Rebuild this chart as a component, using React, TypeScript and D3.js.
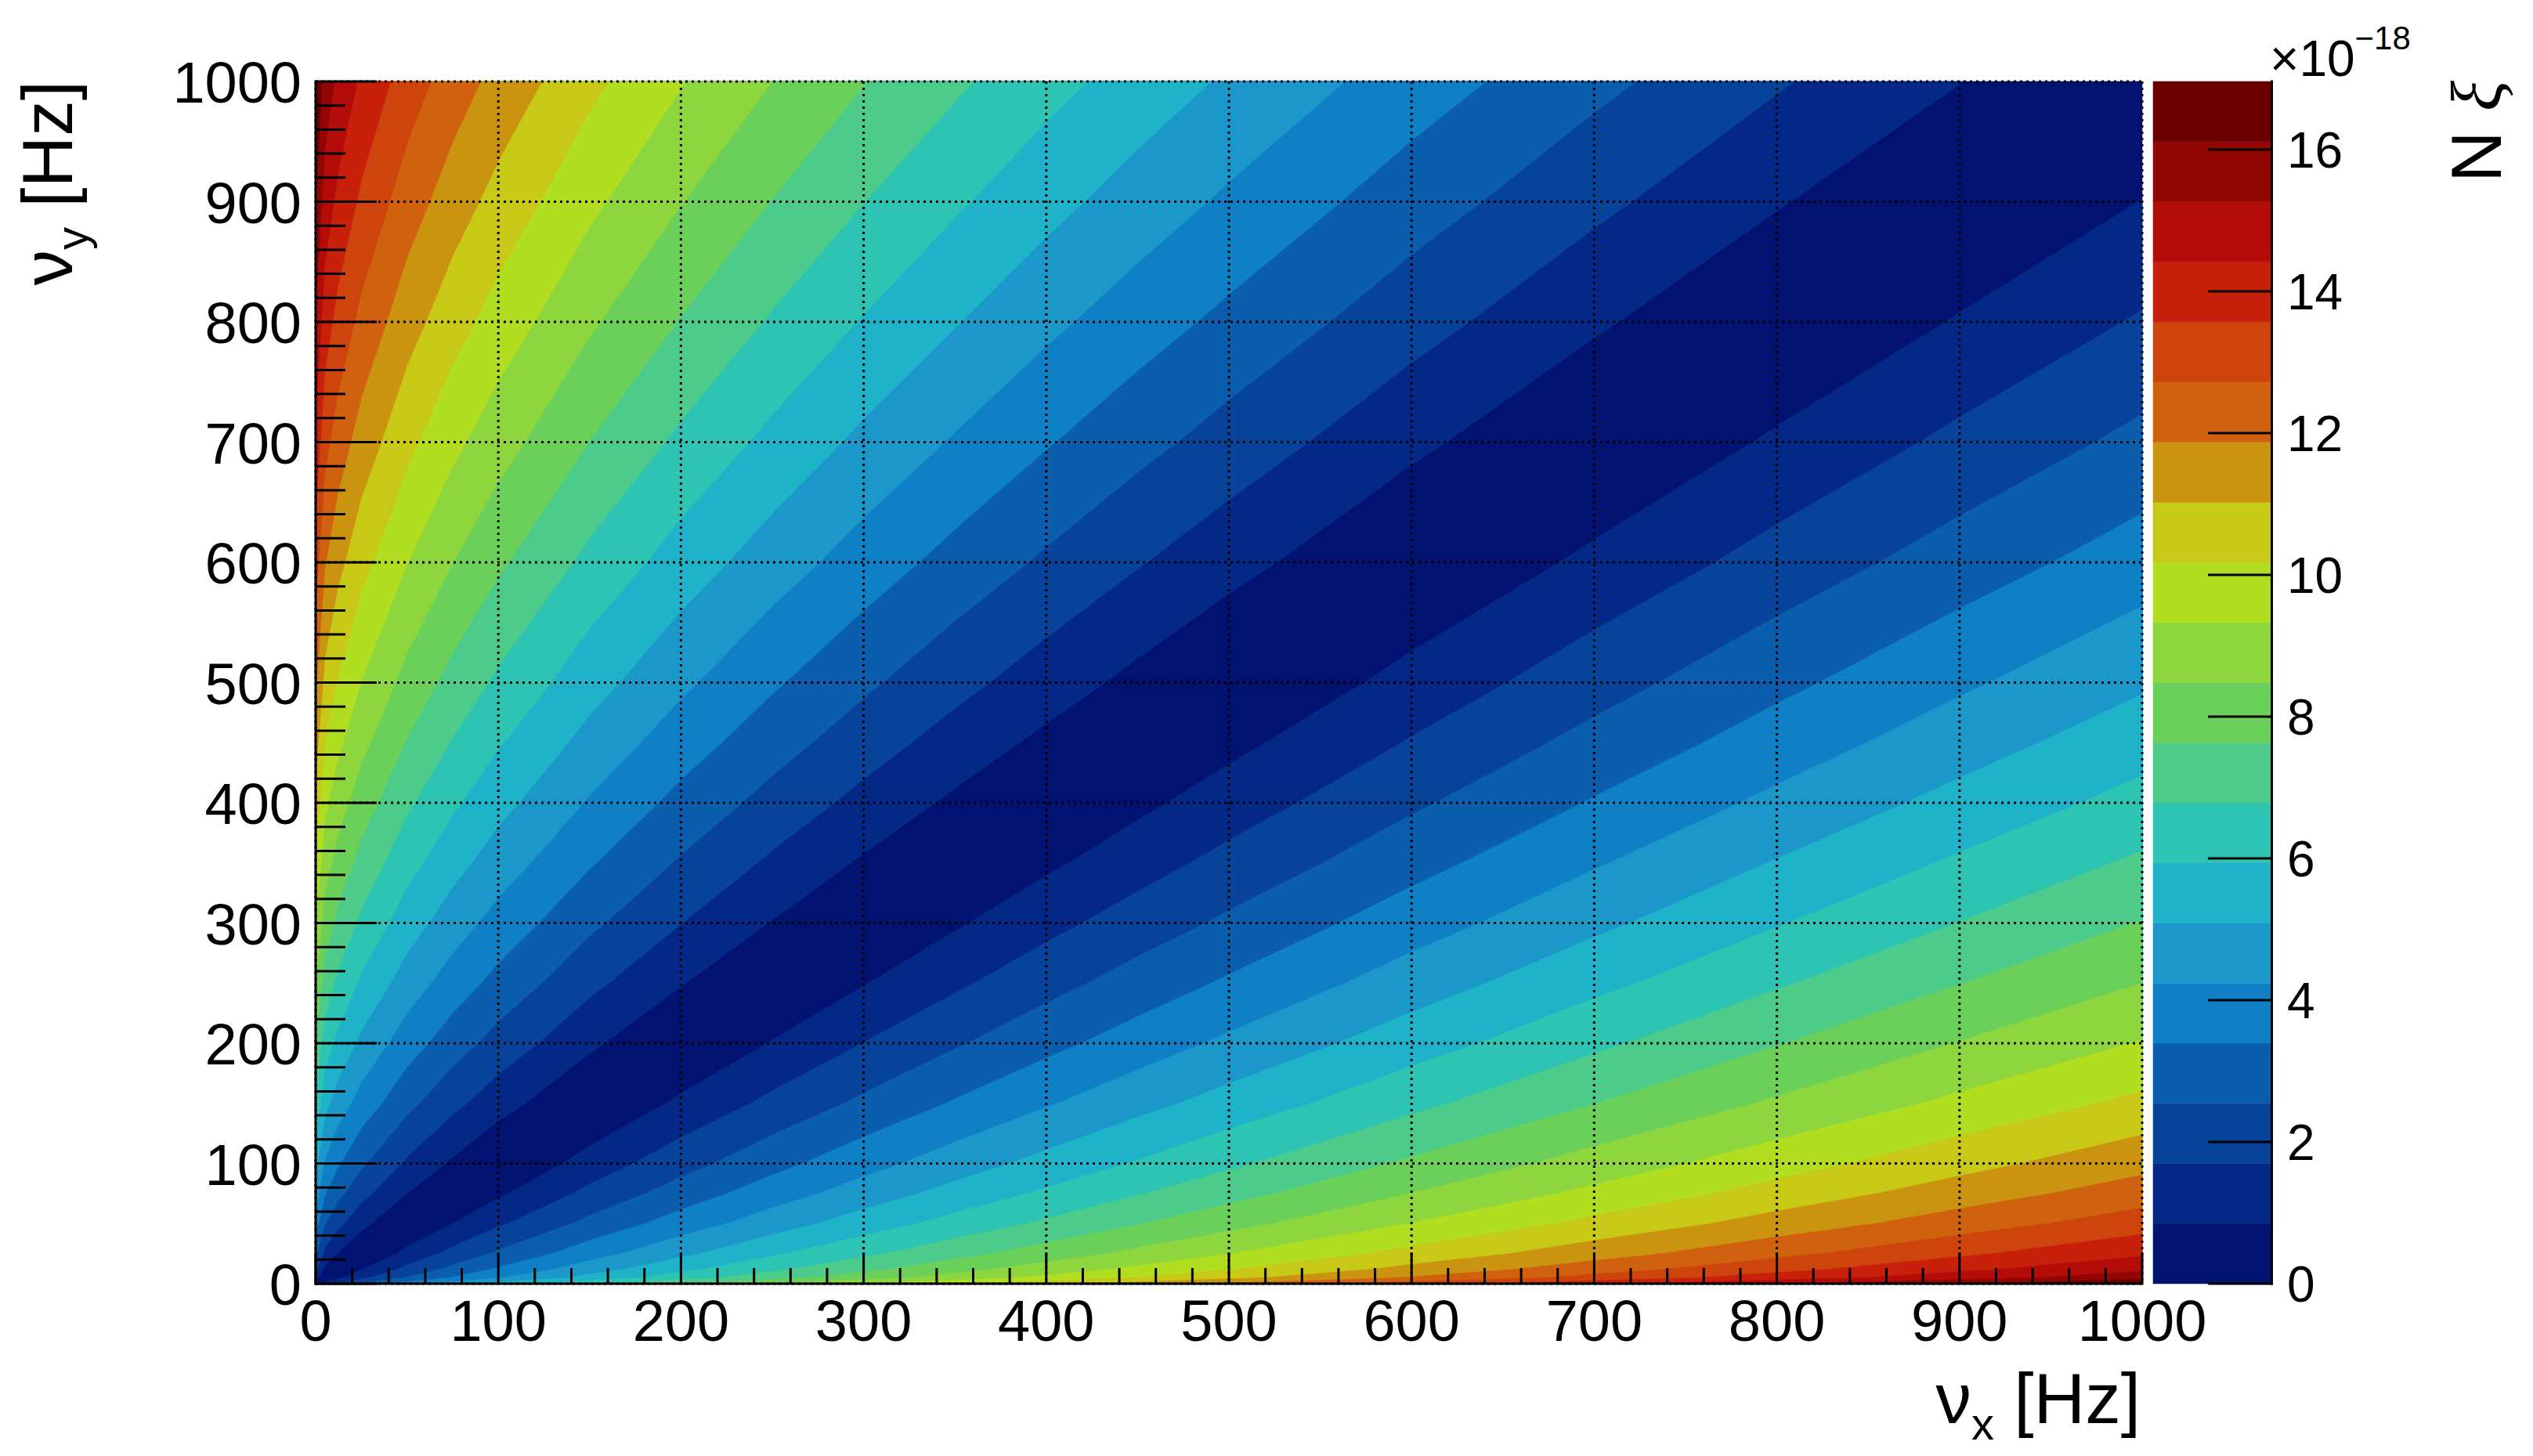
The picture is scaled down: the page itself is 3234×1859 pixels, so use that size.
import React from "react";
import * as d3 from "d3";

// Sample positions (Hz) shared by both axes (denser near 0 where the field changes fast)
const nuSamples = [0, 5, 12, 25, 50, 75, 100, 150, 200, 250, 300, 350, 400, 450, 500, 600, 700, 800, 900, 1000];

// N xi (x 1e-18); rows = nu_y sample, columns = nu_x sample
const xiGrid = [
  [0, 1.20, 1.86, 2.68, 3.79, 4.65, 5.36, 6.57, 7.58, 8.48, 9.29, 10.03, 10.73, 11.38, 11.99, 13.14, 14.19, 15.17, 16.09, 16.96],
  [1.20, 0, 0.66, 1.48, 2.59, 3.45, 4.16, 5.37, 6.39, 7.28, 8.09, 8.83, 9.53, 10.18, 10.79, 11.94, 12.99, 13.97, 14.89, 15.76],
  [1.86, 0.66, 0, 0.82, 1.93, 2.79, 3.51, 4.71, 5.73, 6.62, 7.43, 8.18, 8.87, 9.52, 10.13, 11.28, 12.33, 13.31, 14.23, 15.10],
  [2.68, 1.48, 0.82, 0, 1.11, 1.96, 2.68, 3.89, 4.90, 5.80, 6.61, 7.35, 8.04, 8.70, 9.31, 10.46, 11.51, 12.49, 13.41, 14.28],
  [3.79, 2.59, 1.93, 1.11, 0, 0.85, 1.57, 2.78, 3.79, 4.69, 5.50, 6.24, 6.93, 7.59, 8.20, 9.35, 10.40, 11.38, 12.30, 13.17],
  [4.65, 3.45, 2.79, 1.96, 0.85, 0, 0.72, 1.92, 2.94, 3.84, 4.64, 5.39, 6.08, 6.73, 7.35, 8.49, 9.54, 10.52, 11.44, 12.31],
  [5.36, 4.16, 3.51, 2.68, 1.57, 0.72, 0, 1.21, 2.22, 3.12, 3.93, 4.67, 5.36, 6.01, 6.63, 7.77, 8.83, 9.81, 10.73, 11.60],
  [6.57, 5.37, 4.71, 3.89, 2.78, 1.92, 1.21, 0, 1.02, 1.91, 2.72, 3.47, 4.16, 4.81, 5.42, 6.57, 7.62, 8.60, 9.52, 10.39],
  [7.58, 6.39, 5.73, 4.90, 3.79, 2.94, 2.22, 1.02, 0, 0.90, 1.71, 2.45, 3.14, 3.79, 4.41, 5.55, 6.61, 7.59, 8.51, 9.38],
  [8.48, 7.28, 6.62, 5.80, 4.69, 3.84, 3.12, 1.91, 0.90, 0, 0.81, 1.55, 2.25, 2.90, 3.51, 4.66, 5.71, 6.69, 7.61, 8.48],
  [9.29, 8.09, 7.43, 6.61, 5.50, 4.64, 3.93, 2.72, 1.71, 0.81, 0, 0.74, 1.44, 2.09, 2.70, 3.85, 4.90, 5.88, 6.80, 7.67],
  [10.03, 8.83, 8.18, 7.35, 6.24, 5.39, 4.67, 3.47, 2.45, 1.55, 0.74, 0, 0.69, 1.34, 1.96, 3.10, 4.16, 5.14, 6.06, 6.93],
  [10.73, 9.53, 8.87, 8.04, 6.93, 6.08, 5.36, 4.16, 3.14, 2.25, 1.44, 0.69, 0, 0.65, 1.27, 2.41, 3.46, 4.44, 5.36, 6.23],
  [11.38, 10.18, 9.52, 8.70, 7.59, 6.73, 6.01, 4.81, 3.79, 2.90, 2.09, 1.34, 0.65, 0, 0.62, 1.76, 2.81, 3.79, 4.71, 5.58],
  [11.99, 10.79, 10.13, 9.31, 8.20, 7.35, 6.63, 5.42, 4.41, 3.51, 2.70, 1.96, 1.27, 0.62, 0, 1.15, 2.20, 3.18, 4.10, 4.97],
  [13.14, 11.94, 11.28, 10.46, 9.35, 8.49, 7.77, 6.57, 5.55, 4.66, 3.85, 3.10, 2.41, 1.76, 1.15, 0, 1.05, 2.03, 2.95, 3.82],
  [14.19, 12.99, 12.33, 11.51, 10.40, 9.54, 8.83, 7.62, 6.61, 5.71, 4.90, 4.16, 3.46, 2.81, 2.20, 1.05, 0, 0.98, 1.90, 2.77],
  [15.17, 13.97, 13.31, 12.49, 11.38, 10.52, 9.81, 8.60, 7.59, 6.69, 5.88, 5.14, 4.44, 3.79, 3.18, 2.03, 0.98, 0, 0.92, 1.79],
  [16.09, 14.89, 14.23, 13.41, 12.30, 11.44, 10.73, 9.52, 8.51, 7.61, 6.80, 6.06, 5.36, 4.71, 4.10, 2.95, 1.90, 0.92, 0, 0.87],
  [16.96, 15.76, 15.10, 14.28, 13.17, 12.31, 11.60, 10.39, 9.38, 8.48, 7.67, 6.93, 6.23, 5.58, 4.97, 3.82, 2.77, 1.79, 0.87, 0],
];

const xTicks = [0, 100, 200, 300, 400, 500, 600, 700, 800, 900, 1000];
const yTicks = [0, 100, 200, 300, 400, 500, 600, 700, 800, 900, 1000];
const zTicks = [0, 2, 4, 6, 8, 10, 12, 14, 16];
const zMin = 0;
const zMax = 16.96;
const nContours = 20;
const bandColors = [
  "#021270", "#032886", "#08439a", "#0b5eae", "#0f7fc6",
  "#1b98c9", "#1fb3c9", "#2ec4b4", "#4ccb8a", "#6bd05a",
  "#8ed63e", "#b2de22", "#c8c816", "#cb9410", "#d0620f",
  "#cd440c", "#c9200b", "#b40d09", "#910603", "#6b0000",
];

const W = 3234;
const H = 1859;
const L = 403;
const R = 2735;
const T = 104;
const B = 1639;
const PX0 = 2749;
const PX1 = 2900;
const FONT = "'Liberation Sans', Arial, Helvetica, sans-serif";

export default function App() {
  const n = nuSamples.length;
  const values = xiGrid.flat();
  const step = (zMax - zMin) / nContours;
  const thresholds = d3.range(nContours).map((k) => zMin + k * step);
  const contours = d3.contours().size([n, n]).thresholds(thresholds)(values);

  const idxToNu = d3.scaleLinear().domain(d3.range(n)).range(nuSamples).clamp(true);
  const x = d3.scaleLinear().domain([0, 1000]).range([L, R]);
  const y = d3.scaleLinear().domain([0, 1000]).range([B, T]);
  const z = d3.scaleLinear().domain([zMin, zMax]).range([B, T]);
  const mapPt = (p: number[]) => [x(idxToNu(p[0] - 0.5)), y(idxToNu(p[1] - 0.5))];
  const path = d3.geoPath();

  const minor = d3.range(0, 1001, 20).filter((v) => v % 100 !== 0);

  return (
    <svg width={W} height={H} style={{ position: "absolute", left: 0, top: 0, display: "block", background: "#fff" }}>
      {/* contour bands */}
      <g>
        {contours.map((c, k) => {
          const geom: any = {
            type: "MultiPolygon",
            coordinates: c.coordinates.map((poly: any) => poly.map((ring: any) => ring.map(mapPt))),
          };
          return <path key={k} d={path(geom) || ""} fill={bandColors[k]} stroke={bandColors[k]} strokeWidth={0.6} />;
        })}
      </g>
      {/* dotted grid */}
      <g stroke="#000" strokeWidth={3} strokeDasharray="3 5">
        {xTicks.map((t) => (
          <line key={"gx" + t} x1={x(t)} x2={x(t)} y1={T} y2={B} />
        ))}
        {yTicks.map((t) => (
          <line key={"gy" + t} x1={L} x2={R} y1={y(t)} y2={y(t)} />
        ))}
      </g>
      {/* axes */}
      <g stroke="#000" strokeWidth={3}>
        <line x1={L} x2={L} y1={T - 1.5} y2={B + 1.5} />
        <line x1={L - 1.5} x2={R + 1.5} y1={B} y2={B} />
        {yTicks.map((t) => (
          <line key={"yt" + t} x1={L} x2={L + 78} y1={y(t)} y2={y(t)} />
        ))}
        {minor.map((t) => (
          <line key={"ym" + t} x1={L} x2={L + 38} y1={y(t)} y2={y(t)} />
        ))}
        {xTicks.map((t) => (
          <line key={"xt" + t} x1={x(t)} x2={x(t)} y1={B} y2={B - 40} />
        ))}
        {minor.map((t) => (
          <line key={"xm" + t} x1={x(t)} x2={x(t)} y1={B} y2={B - 20} />
        ))}
      </g>
      {/* tick labels */}
      <g fontFamily={FONT} fontSize={74} fill="#000">
        {yTicks.map((t) => (
          <text key={"yl" + t} x={385} y={y(t) + 27} textAnchor="end">
            {t}
          </text>
        ))}
        {xTicks.map((t) => (
          <text key={"xl" + t} x={x(t)} y={1712} textAnchor="middle">
            {t}
          </text>
        ))}
      </g>
      {/* axis titles */}
      <text x={R - 2} y={1817} textAnchor="end" fontFamily={FONT} fontSize={91}>
        <tspan>ν</tspan>
        <tspan fontSize={58} dy={21}>x</tspan>
        <tspan dy={-21}> [Hz]</tspan>
      </text>
      <text transform={`translate(92,${T - 1}) rotate(-90)`} textAnchor="end" fontFamily={FONT} fontSize={91}>
        <tspan>ν</tspan>
        <tspan fontSize={58} dy={20}>y</tspan>
        <tspan dy={-20}> [Hz]</tspan>
      </text>
      {/* palette */}
      <g>
        {bandColors.map((c, k) => {
          const z0 = zMin + k * step;
          const z1 = zMin + (k + 1) * step;
          return <rect key={"pb" + k} x={PX0} y={z(z1)} width={PX1 - PX0} height={z(z0) - z(z1)} fill={c} stroke={c} strokeWidth={0.5} />;
        })}
      </g>
      <g stroke="#000" strokeWidth={3}>
        <line x1={PX1 + 0.5} x2={PX1 + 0.5} y1={T - 1.5} y2={B + 1.5} />
        {zTicks.map((t) => (
          <line key={"zt" + t} x1={PX1 - 81} x2={PX1 + 2} y1={z(t)} y2={z(t)} />
        ))}
      </g>
      <g fontFamily={FONT} fontSize={64} fill="#000">
        {zTicks.map((t) => (
          <text key={"zl" + t} x={2920} y={z(t) + 23}>
            {t}
          </text>
        ))}
        <text x={2898} y={97}>
          <tspan>×10</tspan>
          <tspan fontSize={42} dy={-34}>−18</tspan>
        </text>
      </g>
      <text transform={`translate(3193,${T - 1}) rotate(-90)`} textAnchor="end" fontFamily={FONT} fontSize={91}>
        <tspan>N </tspan>
        <tspan fontFamily="'Liberation Serif', 'DejaVu Serif', serif" fontStyle="italic">ξ</tspan>
      </text>
    </svg>
  );
}
